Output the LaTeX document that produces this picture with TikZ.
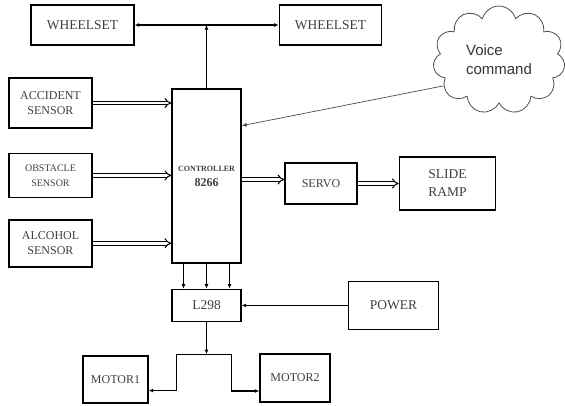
\documentclass[tikz,border=0pt]{standalone}
\usepackage{fontspec}
\setmainfont{Liberation Serif}
\newfontfamily\voicefont{Liberation Sans}
\usetikzlibrary{shapes, arrows.meta, positioning, calc}
\tikzset{
    basicbox/.style={
        rectangle, draw=black, fill=white, line width=1.4pt, align=center,
        inner sep=0pt, text=black!75, font=\fontsize{12}{15}\selectfont
    },
    bigbox/.style={basicbox, font=\fontsize{13.5}{18}\selectfont},
    arrow/.style={-{Latex[length=4.5pt, width=4pt]}, line width=1.1pt},
    biarrow/.style={{Latex[length=4.5pt, width=4pt]}-{Latex[length=4.5pt, width=4pt]}, line width=1.1pt},
    dblarrow/.style={double, double distance=2.4pt, line width=1pt, -{Implies}},
    thinarrow/.style={-{Latex[length=5pt, width=4pt]}, line width=0.7pt, draw=black!70},
}
\begin{document}
\begin{tikzpicture}[x=1pt, y=1pt]
    \useasboundingbox (0,0) rectangle (565,-405);

    % Controller
    \node[basicbox, minimum width=69pt, minimum height=174pt] (ctrl) at (206.5,-176)
        {{\fontsize{8}{9}\selectfont\bfseries CONTROLLER}\\{\bfseries 8266}};

    % Wheelsets
    \node[bigbox, minimum width=103pt, minimum height=40pt] (wheelL) at (82.5,-25) {WHEELSET};
    \node[bigbox, minimum width=102pt, minimum height=40pt, right=144pt of wheelL] (wheelR) {WHEELSET};

    % Sensors
    \node[basicbox, minimum width=83pt, minimum height=50pt] (accident) at (50.5,-103) {ACCIDENT\\SENSOR};
    \node[basicbox, minimum width=83pt, minimum height=44pt, below=24pt of accident, font=\fontsize{10}{15}\selectfont] (obstacle) {OBSTACLE\\SENSOR};
    \node[basicbox, minimum width=83pt, minimum height=47pt, below=21pt of obstacle] (alcohol) {ALCOHOL\\SENSOR};

    % Servo and ramp
    \node[basicbox, minimum width=72pt, minimum height=41pt] (servo) at (321,-183.5) {SERVO};
    \node[bigbox, minimum width=96pt, minimum height=53pt, right=41pt of servo] (slide) {SLIDE\\RAMP};

    % Driver and power
    \node[bigbox, minimum width=69pt, minimum height=32pt, below=25pt of ctrl] (l298) {L298};
    \node[bigbox, minimum width=90pt, minimum height=48pt, right=106pt of l298] (power) {POWER};

    % Motors
    \node[basicbox, minimum width=65pt, minimum height=47pt] (motor1) at (115.5,-379.5) {MOTOR1};
    \node[basicbox, minimum width=70pt, minimum height=48pt] (motor2) at (295,-378) {MOTOR2};

    % Voice input
    \node[cloud, cloud puffs=11, aspect=1.3, draw=black!70, line width=0.8pt, minimum width=132pt, minimum height=108pt,
          align=left, text=black!80, font=\voicefont\fontsize{15}{19}\selectfont] (voice) at (499,-60) {Voice\\command};

    \draw[biarrow] (wheelL) -- (wheelR);
    \coordinate (top) at (ctrl.north |- wheelL.east);
    \draw[arrow] (ctrl) -- (top);
    \draw[thinarrow] (voice.205) -- (ctrl.55);

    \foreach \src in {accident, obstacle, alcohol}
        \draw[dblarrow] (\src) -- (\src -| ctrl.west);
    \draw[dblarrow] ([yshift=4pt]servo.west -| ctrl.east) -- ([yshift=4pt]servo.west);
    \draw[dblarrow] (servo.east) -- (servo.east -| slide.west);

    \foreach \dx in {-23,0,23}
        \draw[arrow] ([xshift=\dx pt]ctrl.south) -- ([xshift=\dx pt]l298.north);
    \draw[arrow] (power) -- (power -| l298.east);

    % Motor split
    \coordinate[below=32pt of l298] (split);
    \coordinate[left=30pt of split] (splitL);
    \coordinate[right=25pt of split] (splitR);
    \draw[arrow] (l298) -- (split);
    \draw[line width=1.1pt] (splitL) -- (splitR);
    \draw[arrow] (splitL) |- ([yshift=-11pt]motor1.east);
    \draw[arrow] (splitR) |- ([yshift=-13pt]motor2.west);
\end{tikzpicture}
\end{document}
